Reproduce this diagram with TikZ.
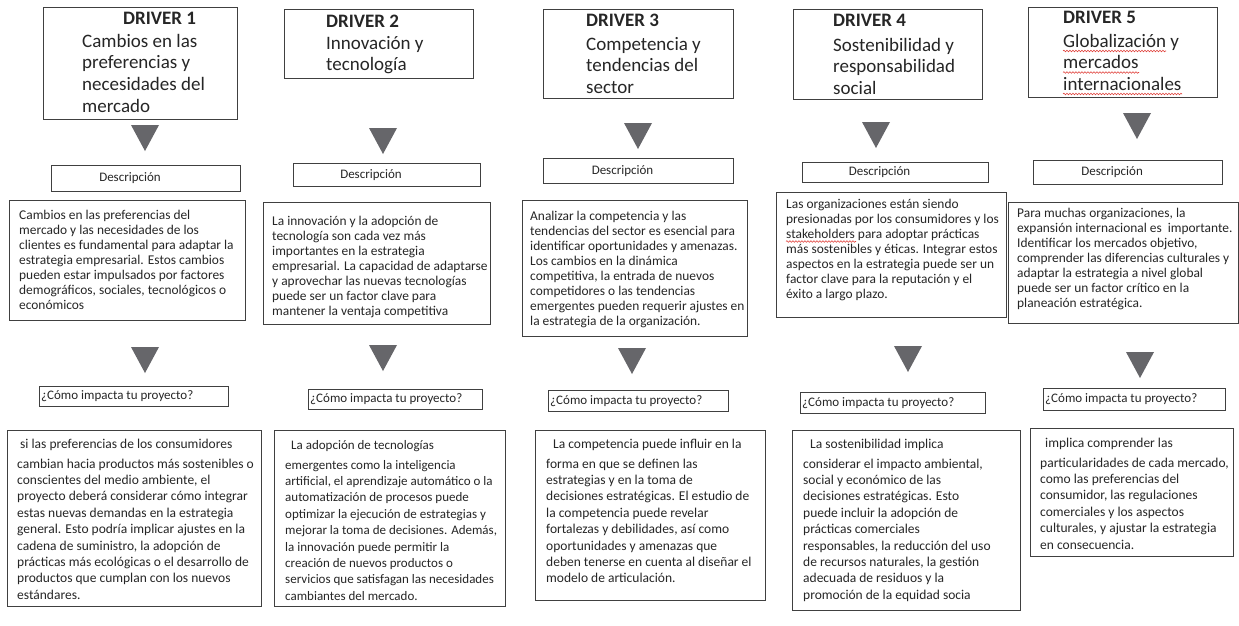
\documentclass[tikz,border=0pt]{standalone}
\usepackage{fontspec}
\setmainfont{Carlito}
\usepackage{xcolor}
\usepackage{tikz}
\usetikzlibrary{decorations.pathmorphing}
\definecolor{frame}{HTML}{404040}
\definecolor{arrowgray}{HTML}{66666A}
\definecolor{ink}{HTML}{262626}
\definecolor{spell}{HTML}{E0403A}
\tikzset{
  box/.style={draw=frame, line width=1.1pt, inner sep=0pt, anchor=north west},
  tri/.style={fill=arrowgray},
  hd/.style={text=ink, font=\fontsize{19}{21.8}\selectfont\bfseries, inner sep=0pt, anchor=base west},
  ttl/.style={text=ink, font=\fontsize{19}{21.8}\selectfont, inner sep=0pt, anchor=base west},
  lbl/.style={text=ink, font=\fontsize{13}{14}\selectfont, inner sep=0pt},
  txt/.style={text=ink, font=\fontsize{13.4}{15}\selectfont, inner sep=0pt, anchor=base west},
  imp/.style={text=ink, font=\fontsize{13.5}{16.4}\selectfont, inner sep=0pt, anchor=base west},
  wavy/.style={draw=spell, line width=0.6pt, decorate, decoration={snake, amplitude=0.8pt, segment length=3pt}},
}
% first line on the anchor
\newcommand\lines[1]{\parbox[t]{250pt}{\raggedright #1}}
\newcommand\tridown[2]{\fill[tri] (#1-14,#2) -- (#1+14,#2) -- (#1,#2+26) -- cycle;}

\begin{document}
\begin{tikzpicture}[x=1pt,y=-1pt]
  \useasboundingbox (0,0) rectangle (1239,625);
  \fill[white] (0,0) rectangle (1239,625);

  % driver 1
  \node[box, minimum width=194pt, minimum height=112pt] (t1) at (43,7) {};
  \node[hd] (t1h) at (123,24) {DRIVER 1};
  \node[ttl] (t1b) at (82,47) {\lines{Cambios en las\\preferencias y\\necesidades del\\mercado}};
  \tridown{145}{125}
  \node[box, minimum width=189pt, minimum height=26pt] (d1) at (51,165) {};
  \node[lbl] (d1l) at ([xshift=-16pt]d1.center) {Descripción};
  \node[box, minimum width=236pt, minimum height=120pt] (p1) at (9,200) {};
  \node[txt] (p1t) at (19,219) {\lines{Cambios en las preferencias del\\mercado y las necesidades de los\\clientes es fundamental para adaptar la\\estrategia empresarial. Estos cambios\\pueden estar impulsados por factores\\demográficos, sociales, tecnológicos o\\económicos}};
  \tridown{145}{347}
  \node[box, minimum width=189pt, minimum height=20pt] (q1) at (39,386) {};
  \node[lbl, anchor=west] (q1l) at ([xshift=2pt]q1.west) {¿Cómo impacta tu proyecto?};
  \node[box, minimum width=254pt, minimum height=176pt] (r1) at (7,430) {};
  \node[imp] (r1t) at (17,448) {\lines{\hspace*{3pt}si las preferencias de los consumidores\\[3.6pt]cambian hacia productos más sostenibles o\\conscientes del medio ambiente, el\\proyecto deberá considerar cómo integrar\\estas nuevas demandas en la estrategia\\general. Esto podría implicar ajustes en la\\cadena de suministro, la adopción de\\prácticas más ecológicas o el desarrollo de\\productos que cumplan con los nuevos\\estándares.}};

  % driver 2
  \node[box, minimum width=189pt, minimum height=69pt] (t2) at (284,9) {};
  \node[hd] (t2h) at (326,27) {DRIVER 2};
  \node[ttl] (t2b) at (326,49) {\lines{Innovación y\\tecnología}};
  \tridown{383}{128}
  \node[box, minimum width=187pt, minimum height=23pt] (d2) at (293,163) {};
  \node[lbl] (d2l) at ([xshift=-16pt]d2.center) {Descripción};
  \node[box, minimum width=227pt, minimum height=122pt] (p2) at (263,202) {};
  \node[txt] (p2t) at (272,225) {\lines{La innovación y la adopción de\\tecnología son cada vez más\\importantes en la estrategia\\empresarial. La capacidad de adaptarse\\y aprovechar las nuevas tecnologías\\puede ser un factor clave para\\mantener la ventaja competitiva}};
  \tridown{383}{345}
  \node[box, minimum width=174pt, minimum height=20pt] (q2) at (308,389) {};
  \node[lbl, anchor=west] (q2l) at ([xshift=2pt]q2.west) {¿Cómo impacta tu proyecto?};
  \node[box, minimum width=231pt, minimum height=176pt] (r2) at (274,430) {};
  \node[imp, font=\fontsize{13}{16.4}\selectfont] (r2t) at (285,449) {\lines{\hspace*{6pt}La adopción de tecnologías\\[3.6pt]emergentes como la inteligencia\\artificial, el aprendizaje automático o la\\automatización de procesos puede\\optimizar la ejecución de estrategias y\\mejorar la toma de decisiones. Además,\\la innovación puede permitir la\\creación de nuevos productos o\\servicios que satisfagan las necesidades\\cambiantes del mercado.}};

  % driver 3
  \node[box, minimum width=190pt, minimum height=89pt] (t3) at (543,9) {};
  \node[hd] (t3h) at (586,26) {DRIVER 3};
  \node[ttl] (t3b) at (586,50) {\lines{Competencia y\\tendencias del\\sector}};
  \tridown{638}{123}
  \node[box, minimum width=190pt, minimum height=25pt] (d3) at (543,158) {};
  \node[lbl] (d3l) at ([xshift=-16pt]d3.center) {Descripción};
  \node[box, minimum width=225pt, minimum height=136pt] (p3) at (522,200) {};
  \node[txt] (p3t) at (530,220) {\lines{Analizar la competencia y las\\tendencias del sector es esencial para\\identificar oportunidades y amenazas.\\Los cambios en la dinámica\\competitiva, la entrada de nuevos\\competidores o las tendencias\\emergentes pueden requerir ajustes en\\la estrategia de la organización.}};
  \tridown{632}{348}
  \node[box, minimum width=180pt, minimum height=21pt] (q3) at (548,390) {};
  \node[lbl, anchor=west] (q3l) at ([xshift=2pt]q3.west) {¿Cómo impacta tu proyecto?};
  \node[box, minimum width=230pt, minimum height=170pt] (r3) at (535,430) {};
  \node[imp] (r3t) at (546,448) {\lines{\hspace*{7pt}La competencia puede influir en la\\[3.6pt]forma en que se definen las\\estrategias y en la toma de\\decisiones estratégicas. El estudio de\\la competencia puede revelar\\fortalezas y debilidades, así como\\oportunidades y amenazas que\\deben tenerse en cuenta al diseñar el\\modelo de articulación.}};

  % driver 4
  \node[box, minimum width=189pt, minimum height=90pt] (t4) at (793,9) {};
  \node[hd] (t4h) at (833,26) {DRIVER 4};
  \node[ttl] (t4b) at (833,51) {\lines{Sostenibilidad y\\responsabilidad\\social}};
  \tridown{876}{122}
  \node[box, minimum width=186pt, minimum height=20pt] (d4) at (802,162) {};
  \node[lbl] (d4l) at ([xshift=-16pt]d4.center) {Descripción};
  \node[box, minimum width=230pt, minimum height=125pt] (p4) at (776,192) {};
  \node[txt] (p4t) at (786,208) {\lines{Las organizaciones están siendo\\presionadas por los consumidores y los\\stakeholders para adoptar prácticas\\más sostenibles y éticas. Integrar estos\\aspectos en la estrategia puede ser un\\factor clave para la reputación y el\\éxito a largo plazo.}};
  \draw[wavy] (786,241.5) -- (856,241.5);
  \tridown{908}{346}
  \node[box, minimum width=185pt, minimum height=21pt] (q4) at (800,392) {};
  \node[lbl, anchor=west] (q4l) at ([xshift=2pt]q4.west) {¿Cómo impacta tu proyecto?};
  \node[box, minimum width=228pt, minimum height=180pt] (r4) at (792,430) {};
  \node[imp] (r4t) at (803,448) {\lines{\hspace*{7pt}La sostenibilidad implica\\[3.6pt]considerar el impacto ambiental,\\social y económico de las\\decisiones estratégicas. Esto\\puede incluir la adopción de\\prácticas comerciales\\responsables, la reducción del uso\\de recursos naturales, la gestión\\adecuada de residuos y la\\promoción de la equidad socia}};

  % driver 5
  \node[box, minimum width=189pt, minimum height=90pt] (t5) at (1028,7) {};
  \node[hd] (t5h) at (1063,23) {DRIVER 5};
  \node[ttl] (t5b) at (1063,47) {\lines{Globalización y\\mercados\\internacionales}};
  \draw[wavy] (1063,51) -- (1166,51);
  \draw[wavy] (1063,72.5) -- (1139,72.5);
  \draw[wavy] (1063,94) -- (1182,94);
  \tridown{1137}{113}
  \node[box, minimum width=189pt, minimum height=24pt] (d5) at (1033,160) {};
  \node[lbl] (d5l) at ([xshift=-16pt]d5.center) {Descripción};
  \node[box, minimum width=230pt, minimum height=121pt] (p5) at (1008,202) {};
  \node[txt] (p5t) at (1017,217) {\lines{Para muchas organizaciones, la\\expansión internacional es\ \ importante.\\Identificar los mercados objetivo,\\comprender las diferencias culturales y\\adaptar la estrategia a nivel global\\puede ser un factor crítico en la\\planeación estratégica.}};
  \tridown{1140}{352}
  \node[box, minimum width=182pt, minimum height=22pt] (q5) at (1043,388) {};
  \node[lbl, anchor=west] (q5l) at ([xshift=2pt]q5.west) {¿Cómo impacta tu proyecto?};
  \node[box, minimum width=203pt, minimum height=128pt] (r5) at (1030,428) {};
  \node[imp] (r5t) at (1040,447) {\lines{\hspace*{5pt}implica comprender las\\[3.6pt]particularidades de cada mercado,\\como las preferencias del\\consumidor, las regulaciones\\comerciales y los aspectos\\culturales, y ajustar la estrategia\\en consecuencia.}};
\end{tikzpicture}
\end{document}
